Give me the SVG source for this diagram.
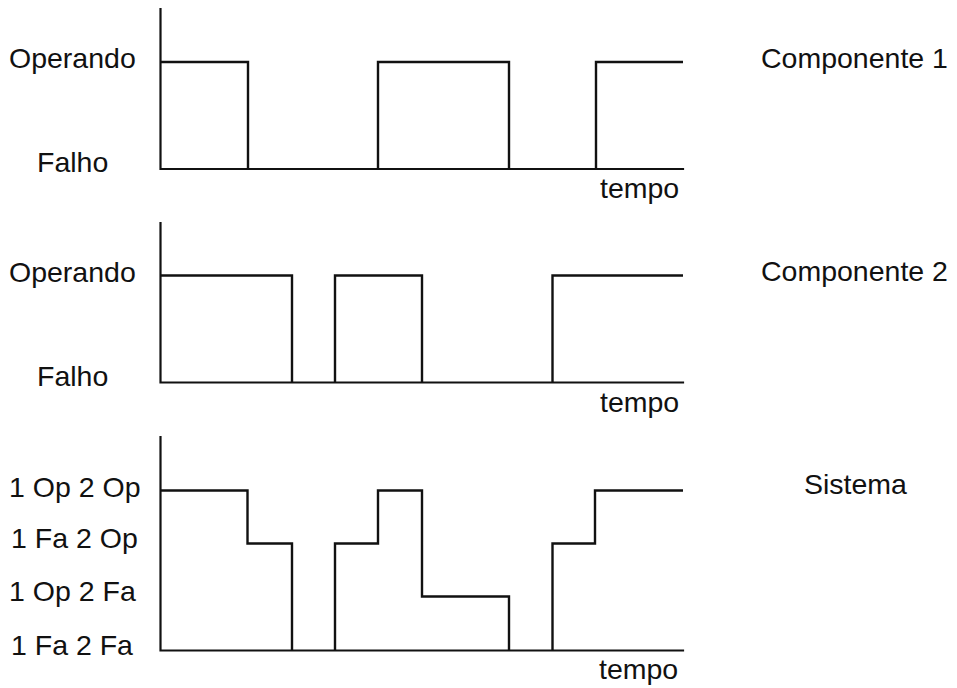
<svg xmlns="http://www.w3.org/2000/svg" width="957" height="688" viewBox="0 0 957 688">
  <style>
    .ax { fill: none; stroke: #111; stroke-width: 2.2; stroke-linecap: square; }
    .sig { fill: none; stroke: #111; stroke-width: 2.4; stroke-linejoin: miter; }
    text { font-family: "Liberation Sans", Arial, Helvetica, sans-serif; font-size: 28.5px; fill: #111; }
  </style>
  <rect width="957" height="688" fill="#fff"/>

  <!-- Componente 1 -->
  <g id="chart-componente-1">
    <path class="ax" d="M160.5,9 V169 H683"/>
    <path class="sig" d="M160.5,62 H248 V169 M378,169 V62 H509 V169 M596,169 V62 H683"/>
    <text x="9" y="68">Operando</text>
    <text x="37" y="172">Falho</text>
    <text x="600" y="198">tempo</text>
    <text x="761" y="67.5">Componente 1</text>
  </g>

  <!-- Componente 2 -->
  <g id="chart-componente-2">
    <path class="ax" d="M160.5,223 V382.5 H683"/>
    <path class="sig" d="M160.5,275.5 H292 V382.5 M335,382.5 V275.5 H422 V382.5 M552.5,382.5 V275.5 H683"/>
    <text x="9" y="281.5">Operando</text>
    <text x="37" y="385.5">Falho</text>
    <text x="600" y="411.5">tempo</text>
    <text x="761" y="281">Componente 2</text>
  </g>

  <!-- Sistema -->
  <g id="chart-sistema">
    <path class="ax" d="M160.5,437 V650.5 H683"/>
    <path class="sig" d="M160.5,490.5 H247.5 V543.5 H292 V650.5 M335,650.5 V543.5 H378 V490.5 H422 V596.5 H509 V650.5 M552.5,650.5 V543.5 H595 V490.5 H683"/>
    <text x="9" y="496.5">1 Op 2 Op</text>
    <text x="11" y="547.5">1 Fa 2 Op</text>
    <text x="9" y="601">1 Op 2 Fa</text>
    <text x="11" y="655">1 Fa 2 Fa</text>
    <text x="599" y="679">tempo</text>
    <text x="804" y="494">Sistema</text>
  </g>
</svg>
